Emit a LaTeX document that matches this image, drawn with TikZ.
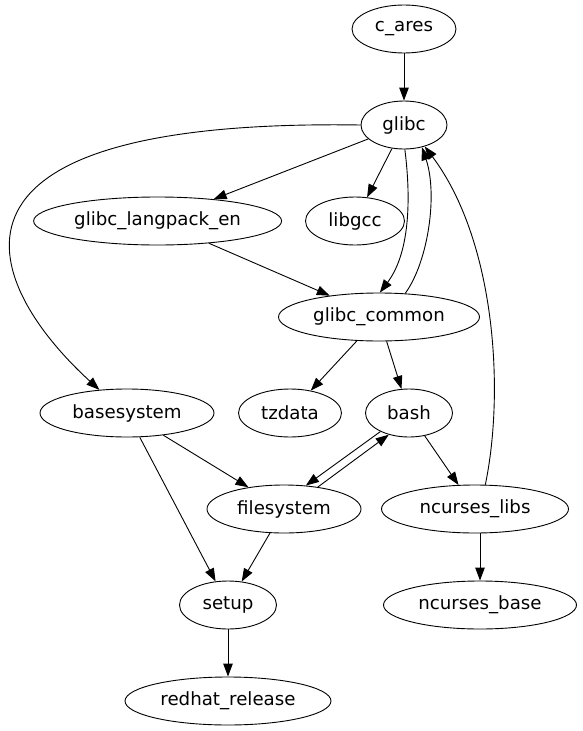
\documentclass[tikz,border=0pt]{standalone}
\usepackage{fontspec}
\setmainfont{DejaVu Sans}
\usepackage{tikz}
\usetikzlibrary{shapes,arrows.meta,positioning}

\begin{document}
\begin{tikzpicture}[
                    x=1pt, y=1pt,
                    pkg/.style={draw, ellipse, line width=0.9pt, minimum height=48pt, inner sep=0pt, font=\fontsize{18.2}{22}\selectfont},
                    dep/.style={-{Triangle[length=13pt,width=9.5pt]}, line width=0.9pt}
                ]
                    \useasboundingbox (0,0) rectangle (582,-731);
                    % packages, one rank per row
                    \node[pkg, minimum width=104pt] (cares) at (404,-29) {c\_ares};
                    \node[pkg, minimum width=86pt] (glibc) at (404,-125) {glibc};
                    \node[pkg, minimum width=248pt] (langpack) at (157.6,-221) {glibc\_langpack\_en};
                    \node[pkg, minimum width=99pt] (libgcc) at (355,-221) {libgcc};
                    \node[pkg, minimum width=201pt] (common) at (379,-317) {glibc\_common};
                    \node[pkg, minimum width=174pt] (basesys) at (127,-413) {basesystem};
                    \node[pkg, minimum width=103pt] (tzdata) at (290,-413) {tzdata};
                    \node[pkg, minimum width=87pt] (bash) at (409,-413) {bash};
                    \node[pkg, minimum width=154pt] (filesys) at (284,-509) {filesystem};
                    \node[pkg, minimum width=187pt] (nclibs) at (475,-509) {ncurses\_libs};
                    \node[pkg, minimum width=97pt] (setup) at (228,-605) {setup};
                    \node[pkg, minimum width=193pt] (ncbase) at (480,-605) {ncurses\_base};
                    \node[pkg, minimum width=206pt] (redhat) at (228,-701) {redhat\_release};

                    % dependencies
                    \draw[dep] (cares) -- (glibc);
                    \draw[dep] (glibc.west) .. controls (-100,-118) and (-10,-290) .. (basesys.140);
                    \draw[dep] (glibc) -- (langpack);
                    \draw[dep] (glibc) -- (libgcc);
                    \draw[dep] (glibc.-88) .. controls (410,-190) and (412,-250) .. (common.88);
                    \draw[dep] (common.42) .. controls (428,-262) and (438,-195) .. (glibc.-51);
                    \draw[dep] (langpack) -- (common);
                    \draw[dep] (common) -- (tzdata);
                    \draw[dep] (common) -- (bash);
                    \draw[dep] (nclibs.67) .. controls (505,-390) and (495,-240) .. (glibc.-46);
                    \draw[dep] (basesys) -- (filesys);
                    \draw[dep] (basesys) -- (setup);
                    \draw[dep] (bash.213) -- (filesys.47);
                    \draw[dep] (filesys.33) -- (bash.227);
                    \draw[dep] (bash) -- (nclibs);
                    \draw[dep] (filesys) -- (setup);
                    \draw[dep] (nclibs.south -| ncbase.north) -- (ncbase.north);
                    \draw[dep] (setup) -- (redhat);
                \end{tikzpicture}
\end{document}
